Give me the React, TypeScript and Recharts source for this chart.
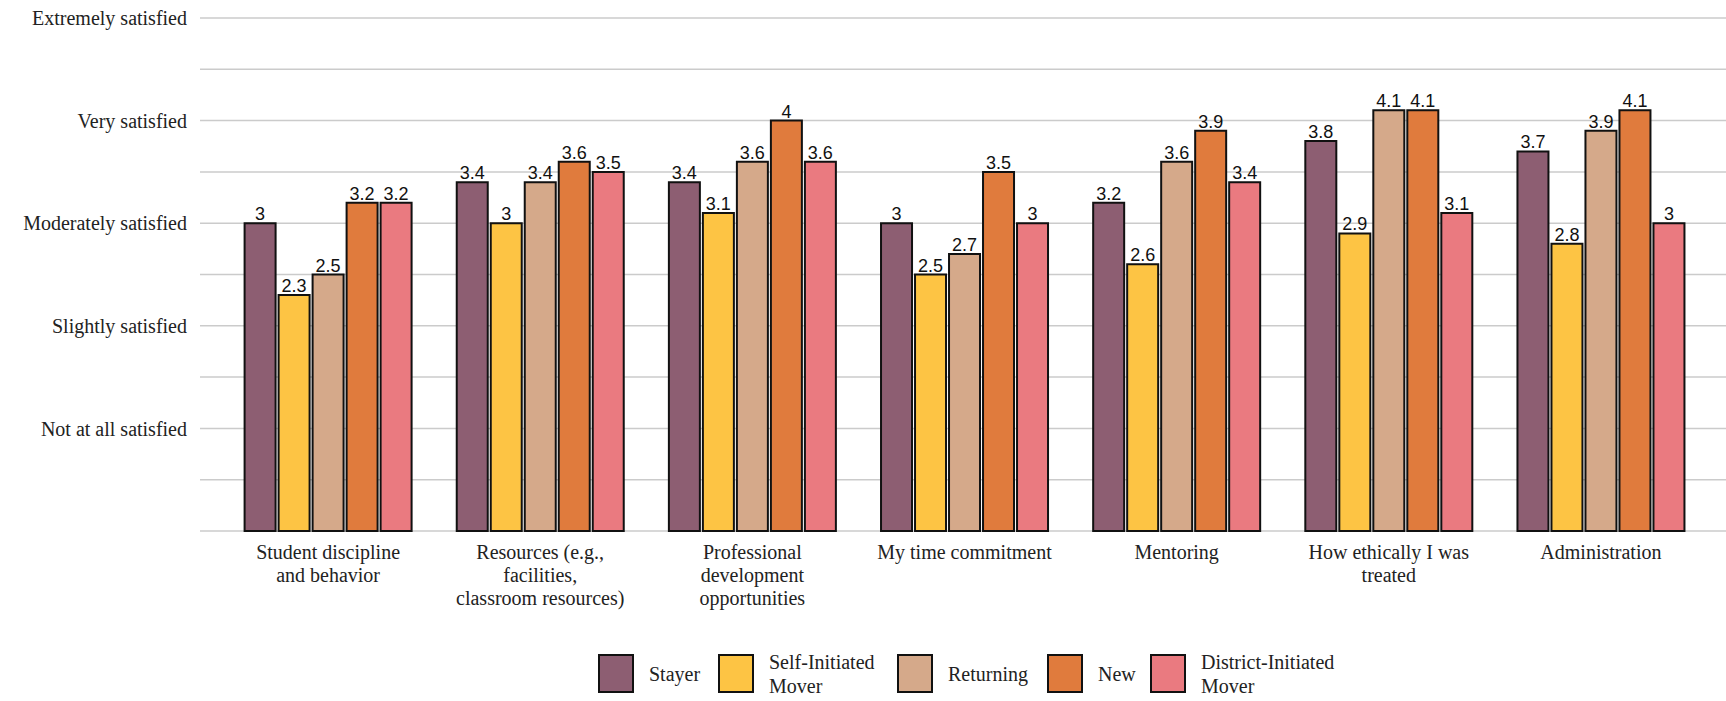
import React from "react";
import { BarChart, Bar, XAxis, YAxis, CartesianGrid, LabelList } from "recharts";

const categories = [
  "Student discipline\nand behavior",
  "Resources (e.g.,\nfacilities,\nclassroom resources)",
  "Professional\ndevelopment\nopportunities",
  "My time commitment",
  "Mentoring",
  "How ethically I was\ntreated",
  "Administration",
];

const stayer = [3, 3.4, 3.4, 3, 3.2, 3.8, 3.7];
const selfInitiated = [2.3, 3, 3.1, 2.5, 2.6, 2.9, 2.8];
const returning = [2.5, 3.4, 3.6, 2.7, 3.6, 4.1, 3.9];
const newTeachers = [3.2, 3.6, 4, 3.5, 3.9, 4.1, 4.1];
const districtInitiated = [3.2, 3.5, 3.6, 3, 3.4, 3.1, 3];

const seriesNames = ["Stayer", "Self-Initiated\nMover", "Returning", "New", "District-Initiated\nMover"];
const seriesKeys = ["stayer", "selfInitiated", "returning", "newT", "district"];
const seriesColors = ["#8d5e72", "#fdc444", "#d5a98a", "#e07b3d", "#ea7a80"];

const yTicks = [0, 0.5, 1, 1.5, 2, 2.5, 3, 3.5, 4, 4.5, 5];
const yLabels = ["Not at all satisfied", "Slightly satisfied", "Moderately satisfied", "Very satisfied", "Extremely satisfied"];

const data = categories.map((c, i) => ({
  cat: c,
  stayer: stayer[i],
  selfInitiated: selfInitiated[i],
  returning: returning[i],
  newT: newTeachers[i],
  district: districtInitiated[i],
}));

const SERIF = "'Liberation Serif', 'Times New Roman', serif";
const SANS = "'Liberation Sans', Arial, sans-serif";

const XTick = (props: any) => {
  const { x, y, payload } = props;
  const lines = String(payload.value).split("\n");
  return (
    <text x={x} y={y} textAnchor="middle" fontFamily={SERIF} fontSize={20} fill="#222">
      {lines.map((l, i) => (
        <tspan key={i} x={x} dy={i === 0 ? 28 : 23}>
          {l}
        </tspan>
      ))}
    </text>
  );
};

const yFormat = (v: number) => {
  if (Number.isInteger(v) && v >= 1 && v <= 5) return yLabels[v - 1];
  return "";
};

const Legend = () => {
  const lefts = [598, 718, 897, 1047, 1150];
  return (
    <>
      {seriesNames.map((n, i) => (
        <div
          key={n}
          style={{
            position: "absolute",
            left: lefts[i],
            top: 654,
            height: 39,
            display: "flex",
            alignItems: "center",
          }}
        >
          <div
            style={{
              width: 32,
              height: 35,
              background: seriesColors[i],
              border: "2px solid #111",
            }}
          />
          <div
            style={{
              marginLeft: 15,
              fontFamily: SERIF,
              fontSize: 20,
              lineHeight: "24px",
              color: "#222",
              whiteSpace: "pre",
            }}
          >
            {n}
          </div>
        </div>
      ))}
    </>
  );
};

export default function App() {
  return (
    <div style={{ position: "absolute", left: 0, top: 0, width: 1726, height: 701, background: "#fff" }}>
      <BarChart
        width={1726}
        height={701}
        data={data}
        margin={{ top: 18, right: 0, left: 0, bottom: 70 }}
        barCategoryGap={22.6}
        barGap={3}
      >
        <CartesianGrid vertical={false} stroke="#cbcbcb" strokeWidth={1.5} />
        <XAxis
          dataKey="cat"
          height={100}
          tick={<XTick />}
          tickLine={false}
          axisLine={false}
          tickSize={0}
          tickMargin={0}
          interval={0}
          padding={{ left: 22, right: 19 }}
        />
        <YAxis
          width={200}
          domain={[0, 5]}
          ticks={yTicks}
          tickFormatter={yFormat}
          tickLine={false}
          axisLine={false}
          tickSize={0}
          tickMargin={13}
          interval={0}
          tick={{ fontFamily: SERIF, fontSize: 20, fill: "#222" }}
        />
        {seriesKeys.map((k, i) => (
          <Bar key={k} dataKey={k} fill={seriesColors[i]} stroke="#111" strokeWidth={2} isAnimationActive={false}>
            <LabelList dataKey={k} position="top" offset={3} fontFamily={SANS} fontSize={18} fill="#111" />
          </Bar>
        ))}
      </BarChart>
      <Legend />
    </div>
  );
}
